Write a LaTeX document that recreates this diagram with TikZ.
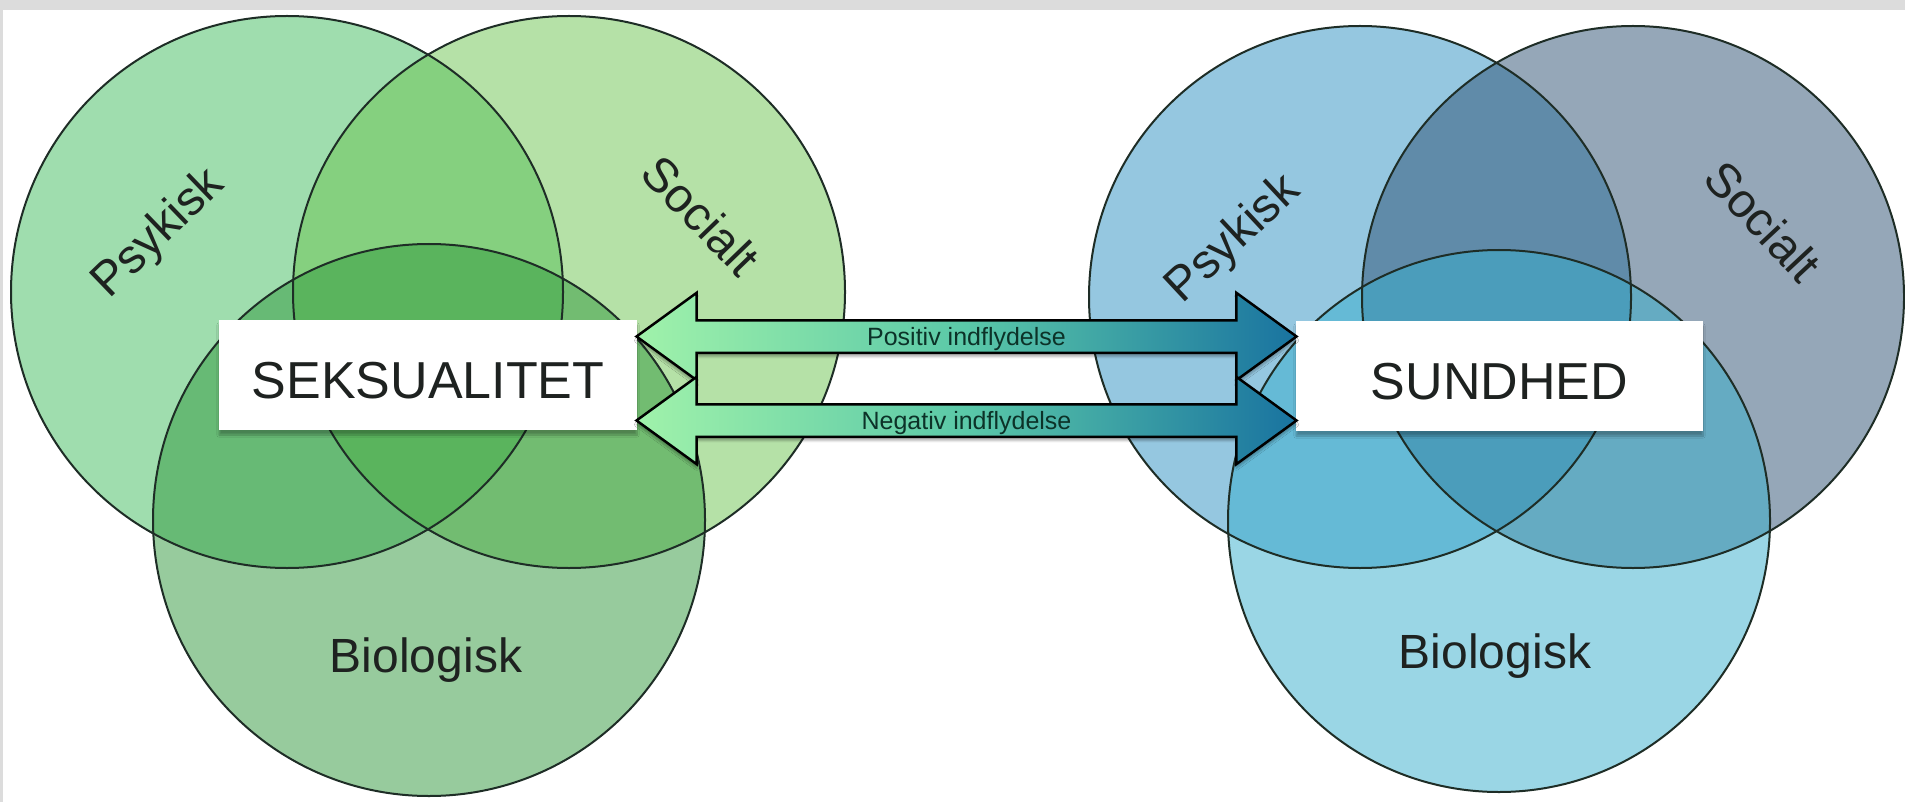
\documentclass[tikz,border=0pt]{standalone}
\usepackage{fontspec}
\setmainfont{Liberation Sans}
\usetikzlibrary{shapes.arrows,shadows.blur,calc}
\definecolor{gP}{RGB}{65,189,95}
\definecolor{gS}{RGB}{109,197,81}
\definecolor{gB}{RGB}{49,153,61}
\definecolor{bP}{RGB}{45,145,195}
\definecolor{bS}{RGB}{45,81,115}
\definecolor{bB}{RGB}{55,175,205}
\definecolor{edgec}{RGB}{30,45,38}
\definecolor{txt}{RGB}{30,34,32}
\definecolor{arrL}{RGB}{160,242,170}
\definecolor{arrM}{RGB}{90,200,168}
\definecolor{arrR}{RGB}{25,115,160}
\definecolor{arrT}{RGB}{12,50,40}
\definecolor{framec}{RGB}{220,220,220}
\begin{document}
\begin{tikzpicture}[x=1pt,y=-1pt,
  vennfill/.style={circle, minimum size=552pt, inner sep=0pt, fill opacity=0.5},
  ring/.style={draw=edgec, line width=2pt},
  lbl/.style={text=txt, inner sep=0pt, font=\fontsize{48}{48}\selectfont},
  boxnode/.style={fill=white, inner sep=0pt, text=txt, minimum height=110pt,
    text height=47pt, text depth=0pt, font=\fontsize{52}{52}\selectfont,
    blur shadow={shadow xshift=0pt, shadow yshift=-5pt, shadow opacity=30, shadow blur steps=8}},
  arr/.style={double arrow, double arrow head extend=27.5pt, double arrow tip angle=72,
    inner xsep=0pt, inner ysep=0pt, text height=24pt, text depth=6pt,
    minimum height=660pt, left color=arrL, right color=arrR, middle color=arrM,
    draw=black, line width=2.5pt, text=arrT, font=\fontsize{25}{25}\selectfont,
    blur shadow={shadow xshift=0pt, shadow yshift=-4pt, shadow opacity=30, shadow blur steps=6}}
]
\useasboundingbox (0,0) rectangle (1905,802);
\fill[framec] (0,0) rectangle (1905,802);
\fill[white] (3,10) rectangle (1905,802);

% left Venn
\node[vennfill, fill=gP] (lp) at (287,292) {};
\node[vennfill, fill=gS] (ls) at (569,292) {};
\node[vennfill, fill=gB] (lb) at (429,520) {};
\draw[ring] (lp.center) circle[radius=276pt];
\draw[ring] (ls.center) circle[radius=276pt];
\draw[ring] (lb.center) circle[radius=276pt];

% right Venn
\node[vennfill, fill=bP, minimum size=542pt] (rp) at (1360,297) {};
\node[vennfill, fill=bS, minimum size=542pt] (rs) at (1633,297) {};
\node[vennfill, fill=bB, minimum size=542pt] (rb) at (1499,521) {};
\draw[ring] (rp.center) circle[radius=271pt];
\draw[ring] (rs.center) circle[radius=271pt];
\draw[ring] (rb.center) circle[radius=271pt];

% labels
\node[lbl, rotate=44] (lpl) at (159,234) {Psykisk};
\node[lbl, rotate=-46] (lsl) at (701,215) {Socialt};
\node[lbl, anchor=base] (lbl) at (426,672) {Biologisk};
\node[lbl, rotate=43] (rpl) at (1234,240) {Psykisk};
\node[lbl, rotate=-47] (rsl) at (1763,221) {Socialt};
\node[lbl, anchor=base] (rbl) at (1495,668) {Biologisk};

% boxes
\node[boxnode, minimum width=418pt] (sek) at (428,375) {SEKSUALITET};
\node[boxnode, minimum width=407pt] (sun) at (1499.5,376) {SUNDHED};

% arrows
\node[arr] (pos) at ($(sek.east)!0.5!(sun.west)+(0,-39)$) {Positiv indflydelse};
\node[arr] (neg) at ($(sek.east)!0.5!(sun.west)+(0,45)$) {Negativ indflydelse};
\end{tikzpicture}
\end{document}
